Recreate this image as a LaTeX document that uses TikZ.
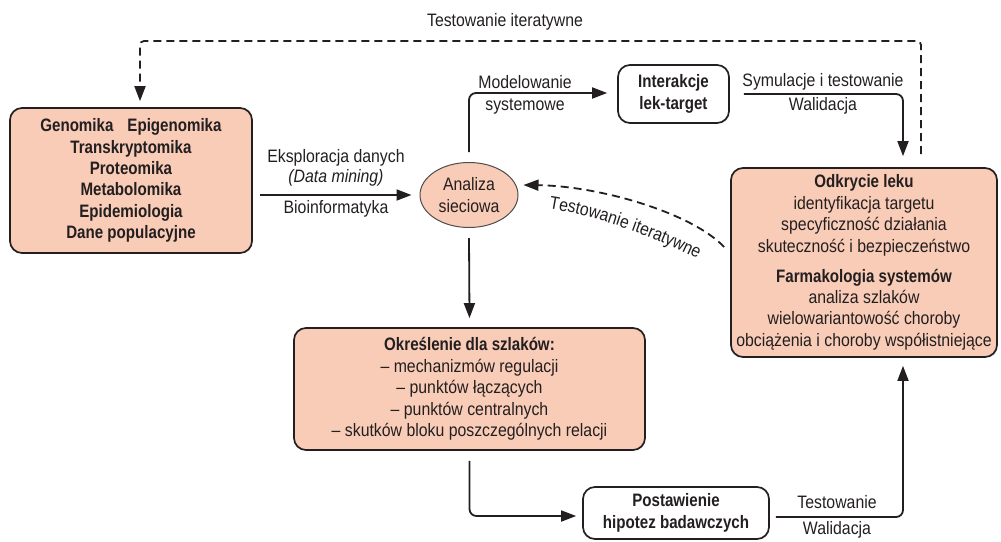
\documentclass[tikz,border=0pt]{standalone}
\usepackage{fontspec}
\setmainfont{Liberation Sans}[FakeStretch=0.88, BoldFeatures={FakeStretch=0.84}, ItalicFeatures={FakeStretch=0.88}]
\usetikzlibrary{arrows.meta,calc,shapes.geometric,decorations.text}
\definecolor{peach}{HTML}{F9CCB7}
\definecolor{ink}{HTML}{231F20}
\newcommand\fsz{\fontsize{18}{21.4}\selectfont}
\begin{document}
\begin{tikzpicture}[x=1pt,y=-1pt,
  box/.style={draw=ink, line width=1.7, rounded corners=12, fill=peach, align=center, inner sep=0, font=\fsz, text=ink},
  wbox/.style={box, fill=white},
  arr/.style={draw=ink, line width=1.8, -{Triangle[length=15,width=11]}},
  dsh/.style={dash pattern=on 8 off 5},
  lbl/.style={font=\fsz, text=ink, inner sep=0}]
\useasboundingbox (0,0) rectangle (1001,541);

\node[box, minimum width=242, minimum height=145] (gen) at (131,180.5)
  {\textbf{Genomika\hspace{14pt}Epigenomika}\\\textbf{Transkryptomika}\\\textbf{Proteomika}\\\textbf{Metabolomika}\\\textbf{Epidemiologia}\\\textbf{Dane populacyjne}};
\node[ellipse, draw=ink!80, line width=1, fill=peach, minimum width=98, minimum height=65, inner sep=0, align=center, font=\fsz, text=ink] (ana) at (469,195) {Analiza\\sieciowa};
\node[wbox, minimum width=111, minimum height=58] (int) at (673.5,94) {\textbf{Interakcje}\\\textbf{lek-target}};
\node[box, minimum width=266, minimum height=189] (odk) at (864,262.5)
  {\textbf{Odkrycie leku}\\identyfikacja targetu\\specyficzność działania\\skuteczność i bezpieczeństwo\\[8.6pt]\textbf{Farmakologia systemów}\\analiza szlaków\\wielowariantowość choroby\\obciążenia i choroby współistniejące};
\node[box, minimum width=351, minimum height=122] (okr) at (469.5,389)
  {\textbf{Określenie dla szlaków:}\\– mechanizmów regulacji\\– punktów łączących\\– punktów centralnych\\– skutków bloku poszczególnych relacji};
\node[wbox, minimum width=186, minimum height=52] (post) at (676,513) {\textbf{Postawienie}\\\textbf{hipotez badawczych}};

\coordinate (tl) at (140,41);
\coordinate (tr) at (921,41);

% connectors
\draw[arr, dsh, rounded corners=4] ([yshift=13]odk.north -| tr) -- (tr) -- (tl) -- ([yshift=6]gen.north -| tl);
\draw[arr] ($(gen.east |- ana.west)+(7,0)$) -- ($(ana.west)+(-8,0)$);
\draw[arr, rounded corners=7] ([yshift=10]ana.north) |- ([xshift=-10,yshift=1]int.west);
\draw[arr, rounded corners=7] ([xshift=14]int.east) -| ($(odk.north)+(39,-11)$);
\draw[arr, dsh] ($(odk.west)+(-6,-15.5)$) .. controls (692,213) and (600,186) .. ($(ana.east)+(5,-10)$);
\draw[arr] ([yshift=-10]ana.south) -- ([yshift=9]okr.north);
\draw[arr, rounded corners=7] ([yshift=-10]okr.south) |- ([xshift=-6,yshift=-3]post.west);
\draw[arr, rounded corners=7] ([xshift=6,yshift=-4]post.east) -| ($(odk.south)+(39,8)$);

% labels
\node[lbl] (l1) at (505,22) {Testowanie iteratywne};
\node[lbl] (l2) at (336,158) {Eksploracja danych};
\node[lbl] (l3) at (336,178) {\textit{(Data mining)}};
\node[lbl] (l4) at (336,209) {Bioinformatyka};
\node[lbl] (l5) at (525,82) {Modelowanie};
\node[lbl] (l6) at (525,107) {systemowe};
\node[lbl] (l7) at (823,82) {Symulacje i testowanie};
\node[lbl] (l8) at (823,106) {Walidacja};
\path[decorate, decoration={text along path, text align=center, text color=ink,
  text={|\fsz|Testowanie iteratywne}}] (546,208) .. controls (598,216) and (652,236) .. (700,260);
\node[lbl] (l10) at (837,502) {Testowanie};
\node[lbl] (l11) at (837,530) {Walidacja};
\end{tikzpicture}
\end{document}
